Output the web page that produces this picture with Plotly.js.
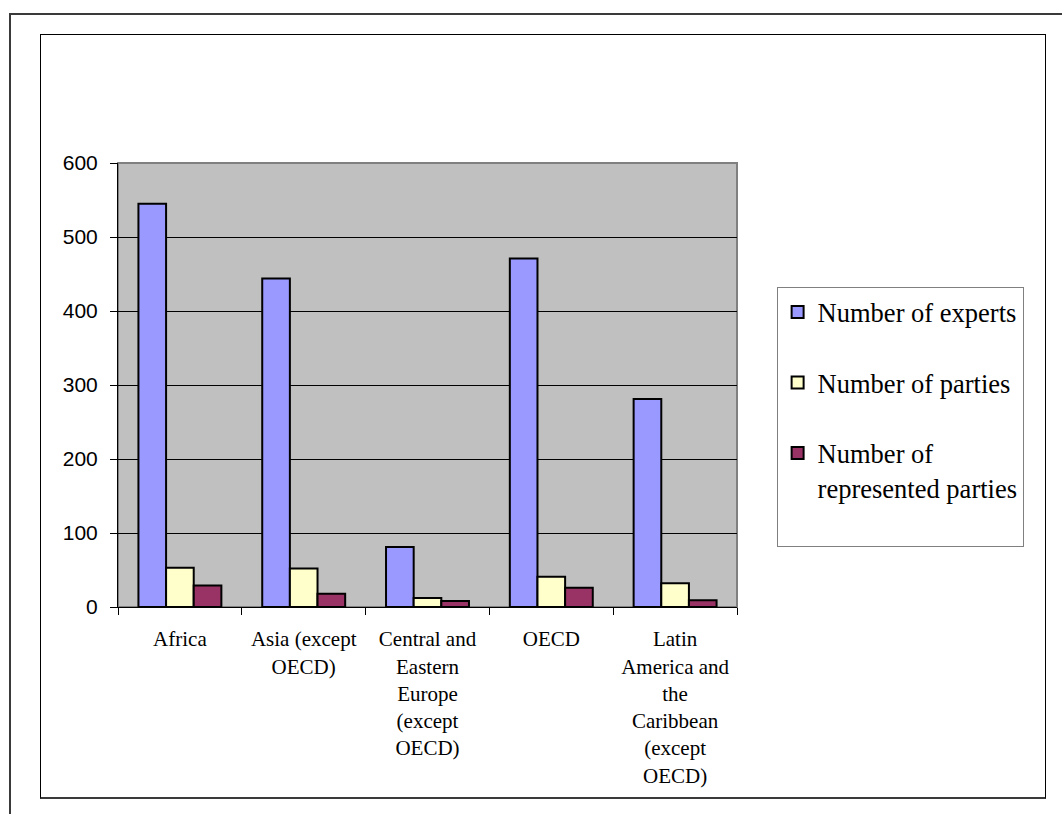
<!DOCTYPE html>
<html>
<head>
<meta charset="utf-8">
<script src="https://cdn.plot.ly/plotly-3.0.1.min.js"></script>
<style>
  html, body { margin: 0; padding: 0; background: #fff; }
  #wrap { position: relative; width: 1062px; height: 814px; overflow: hidden; }
  #chart { position: absolute; left: 0; top: 0; width: 1062px; height: 814px; }
  .frame { position: absolute; pointer-events: none; box-sizing: border-box; }
  #outer { left: 9px; top: 13px; width: 1100px; height: 900px; border-left: 2px solid #3a3a3a; border-top: 2px solid #3a3a3a; }
  #inner { left: 40px; top: 34px; width: 1006px; height: 765px; border: 1.5px solid #000; border-bottom: 2px solid #3a3a3a; }
</style>
</head>
<body>
<div id="wrap">
  <div id="chart"></div>
  <div id="outer" class="frame"></div>
  <div id="inner" class="frame"></div>
</div>
<script>
const categories = ["Africa", "Asia (except OECD)", "Central and Eastern Europe (except OECD)", "OECD", "Latin America and the Caribbean (except OECD)"];
const tickLabels = ["Africa", "Asia (except<br>OECD)", "Central and<br>Eastern<br>Europe<br>(except<br>OECD)", "OECD", "Latin<br>America and<br>the<br>Caribbean<br>(except<br>OECD)"];
const seriesNames = ["Number of experts", "Number of parties", "Number of<br>represented parties<br>\u00a0"];
const experts = [545, 444, 81, 471, 281];
const parties = [53, 52, 12, 41, 32];
const represented = [29, 18, 8, 26, 9];
const colors = ["#9999FF", "#FFFFCC", "#993366"];
const yTicks = [0, 100, 200, 300, 400, 500, 600];

const serif = "Times New Roman, Liberation Serif, serif";
const sans = "Arial, Liberation Sans, sans-serif";

const values = [experts, parties, represented];
const traces = values.map((v, i) => ({
  type: "bar",
  name: seriesNames[i],
  x: categories,
  y: v,
  legendgroup: "g" + i,
  marker: { color: colors[i], line: { color: "#000", width: 2 } },
  hoverinfo: "x+y"
}));

const layout = {
  width: 1062,
  height: 814,
  margin: { l: 118, r: 325, t: 163, b: 207, pad: 0 },
  paper_bgcolor: "#ffffff",
  plot_bgcolor: "#C0C0C0",
  barmode: "group",
  bargap: 0.33,
  bargroupgap: 0,
  showlegend: true,
  legend: {
    x: 1.064, xanchor: "left",
    y: 0.72, yanchor: "top",
    bgcolor: "#ffffff",
    bordercolor: "#808080",
    borderwidth: 1,
    font: { family: serif, size: 26.5, color: "#000" },
    traceorder: "grouped",
    tracegroupgap: 33,
    valign: "top"
  },
  xaxis: {
    type: "category",
    categoryorder: "array",
    categoryarray: categories,
    tickvals: categories,
    ticktext: tickLabels,
    ticks: "outside",
    tickson: "boundaries",
    ticklen: 7,
    tickcolor: "#000",
    tickwidth: 1,
    showline: true,
    linecolor: "#000",
    linewidth: 1,
    showgrid: false,
    tickangle: 0,
    ticklabelstandoff: 13,
    tickfont: { family: serif, size: 21, color: "#000" },
    fixedrange: true
  },
  yaxis: {
    range: [0, 600],
    tickvals: yTicks,
    ticktext: yTicks.map(String),
    ticks: "outside",
    ticklen: 7,
    tickcolor: "#000",
    tickwidth: 1,
    showline: true,
    linecolor: "#000",
    linewidth: 1,
    showgrid: true,
    gridcolor: "#000",
    gridwidth: 1,
    zeroline: false,
    ticklabelstandoff: 8,
    tickfont: { family: sans, size: 21, color: "#000" },
    fixedrange: true
  },
  shapes: [{
    type: "rect", xref: "paper", yref: "paper",
    x0: 0, x1: 1, y0: 0, y1: 1,
    line: { color: "#808080", width: 2 },
    fillcolor: "rgba(0,0,0,0)",
    layer: "below"
  }]
};

Plotly.newPlot("chart", traces, layout, { displayModeBar: false, staticPlot: true });
</script>
</body>
</html>
